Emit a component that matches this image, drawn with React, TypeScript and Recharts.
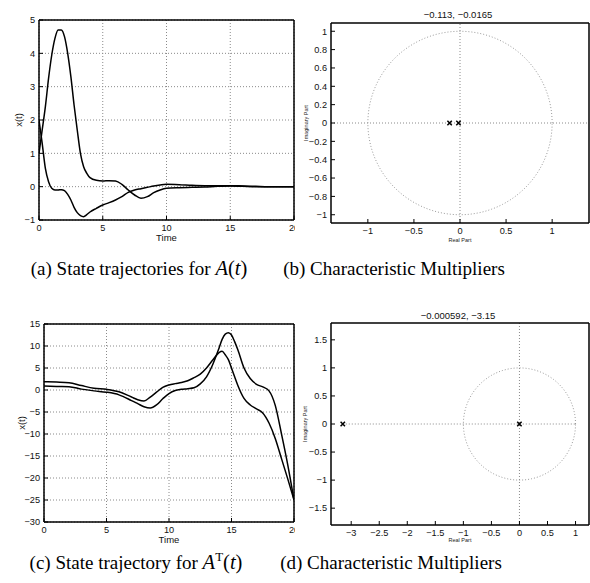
import React from "react";
import {
  LineChart,
  ComposedChart,
  Line,
  Scatter,
  XAxis,
  YAxis,
  CartesianGrid,
  ReferenceLine,
  Label,
} from "recharts";

// (a) state trajectories for A(t)
const T_A = [0, 0.25, 0.5, 0.75, 1, 1.25, 1.5, 1.75, 2, 2.25, 2.5, 2.75, 3, 3.25, 3.5, 3.75, 4, 4.5, 5, 5.5, 6, 6.5, 7, 7.5, 8, 8.5, 9, 9.5, 10, 11, 12, 13, 14, 15, 16, 17, 18, 19, 20];
const A_X1 = [1.0, 1.7, 2.4, 3.25, 3.95, 4.45, 4.7, 4.7, 4.5, 4.0, 3.3, 2.45, 1.7, 1.0, 0.6, 0.4, 0.27, 0.19, 0.17, 0.18, 0.17, 0.07, -0.1, -0.25, -0.35, -0.3, -0.18, -0.1, -0.05, -0.03, -0.02, -0.01, 0.01, 0.02, 0.01, 0, 0, 0, 0];
const A_X2 = [2.0, 1.3, 0.55, 0.15, -0.05, -0.1, -0.1, -0.09, -0.12, -0.23, -0.4, -0.62, -0.78, -0.87, -0.9, -0.84, -0.76, -0.65, -0.55, -0.48, -0.4, -0.3, -0.17, -0.1, -0.06, -0.02, 0.02, 0.05, 0.07, 0.06, 0.04, 0.03, 0.03, 0.03, 0.02, 0.01, 0, 0, 0];

// (c) state trajectory for A^T(t)
const T_C = [0, 1, 2, 3, 4, 5, 6, 7, 7.5, 8, 8.5, 9, 9.5, 10, 10.5, 11, 11.5, 12, 12.5, 13, 13.5, 14, 14.25, 14.5, 14.75, 15, 15.25, 15.5, 16, 16.5, 17, 17.5, 18, 18.5, 19, 19.5, 20];
const C_X1 = [1.9, 1.8, 1.65, 1.0, 0.4, 0.15, -0.4, -1.6, -2.2, -2.5, -1.6, -0.5, 0.6, 1.15, 1.45, 1.7, 2.1, 2.8, 3.6, 5.0, 6.8, 8.5, 8.8, 8.0, 6.9, 5.0, 3.0, 1.1, -1.9, -3.4, -4.3, -5.2, -7.5, -11, -15.6, -20.2, -25];
const C_X2 = [0.9, 0.8, 0.75, 0.2, -0.2, -0.5, -1.1, -2.4, -3.1, -3.8, -4.1, -3.4, -2.0, -0.8, -0.1, 0.15, 0.3, 0.5, 1.4, 3.0, 5.8, 9.5, 11.5, 12.7, 13.0, 12.5, 11.0, 9.2, 5.0, 2.6, 1.3, 0.7, -0.2, -3.5, -10, -17, -25];

// (b), (d) characteristic multipliers
const B_RE = [-0.113, -0.0165];
const B_IM = [0, 0];
const D_RE = [-0.000592, -3.15];
const D_IM = [0, 0];

// tick labels
const T_TICKS = [0, 5, 10, 15, 20];
const A_YTICKS = [-1, 0, 1, 2, 3, 4, 5];
const C_YTICKS = [-30, -25, -20, -15, -10, -5, 0, 5, 10, 15];
const B_XTICKS = [-1, -0.5, 0, 0.5, 1];
const B_YTICKS = [-1, -0.8, -0.6, -0.4, -0.2, 0, 0.2, 0.4, 0.6, 0.8, 1];
const D_XTICKS = [-3, -2.5, -2, -1.5, -1, -0.5, 0, 0.5, 1];
const D_YTICKS = [-1.5, -1, -0.5, 0, 0.5, 1, 1.5];

// unit circle guide (reference geometry, not data)
const UNIT_CIRCLE = Array.from({ length: 145 }, (_, i) => {
  const a = (i / 144) * 2 * Math.PI;
  return { x: Math.cos(a), y: Math.sin(a) };
});

const SANS = "'Liberation Sans', Arial, Helvetica, sans-serif";
const SERIF = "'Liberation Serif', 'Times New Roman', serif";
const TICK = { fill: "#111", fontSize: 9.2, fontFamily: SANS };
const AXIS_LINE = { stroke: "#000", strokeWidth: 1.5 };
const TICK_LINE = { stroke: "#000", strokeWidth: 1 };
const DOTTED = "#8a8a8a";

const fmt = (v: number) => String(v).replace("-", "\u2212");

const rows = (t: number[], a: number[], b: number[]) => t.map((v, i) => ({ t: v, x1: a[i], x2: b[i] }));

type Margin = { top: number; right: number; bottom: number; left: number };

function Cross(props: any) {
  const { cx, cy } = props;
  const s = 2.2;
  return (
    <path
      d={`M${cx - s},${cy - s}L${cx + s},${cy + s}M${cx - s},${cy + s}L${cx + s},${cy - s}`}
      stroke="#000"
      strokeWidth={1.5}
      fill="none"
    />
  );
}

// top + right edges of the matlab box, with inward ticks, as a second chart laid on top
function BoxTopRight(props: {
  width: number;
  height: number;
  margin: Margin;
  xDomain: [number, number];
  xTicks: number[];
  yDomain: [number, number];
  yTicks: number[];
}) {
  const { width, height, margin, xDomain, xTicks, yDomain, yTicks } = props;
  const corners = [
    { x: xDomain[0], y: yDomain[0] },
    { x: xDomain[1], y: yDomain[1] },
  ];
  return (
    <div style={{ position: "absolute", left: 0, top: 0, pointerEvents: "none" }}>
      <LineChart width={width} height={height} data={corners} margin={{ ...margin, top: margin.top - 1, right: margin.right - 1 }}>
        <XAxis
          orientation="top"
          dataKey="x"
          type="number"
          domain={xDomain}
          ticks={xTicks}
          interval={0}
          allowDataOverflow
          height={1}
          tick={false}
          tickSize={-4}
          axisLine={AXIS_LINE}
          tickLine={TICK_LINE}
        />
        <YAxis
          orientation="right"
          type="number"
          domain={yDomain}
          ticks={yTicks}
          interval={0}
          allowDataOverflow
          width={1}
          tick={false}
          tickSize={-4}
          axisLine={AXIS_LINE}
          tickLine={TICK_LINE}
        />
        <Line dataKey="y" stroke="none" dot={false} activeDot={false} isAnimationActive={false} />
      </LineChart>
    </div>
  );
}

function TrajectoryChart(props: {
  data: { t: number; x1: number; x2: number }[];
  yDomain: [number, number];
  yTicks: number[];
  height: number;
  marginTop: number;
  axisH: number;
  axisW: number;
  timeOffset: number;
  yLabelOffset: number;
}) {
  const { data, yDomain, yTicks, height, marginTop, axisH, axisW, timeOffset, yLabelOffset } = props;
  return (
    <div style={{ position: "relative", width: 300, height }}>
      <LineChart width={300} height={height} data={data} margin={{ top: marginTop, right: 6, bottom: 0, left: 0 }}>
        <CartesianGrid stroke={DOTTED} strokeDasharray="1 2" strokeWidth={1} />
        <XAxis
          dataKey="t"
          type="number"
          domain={[0, 20]}
          ticks={T_TICKS}
          interval={0}
          allowDataOverflow
          height={axisH}
          tickSize={-4}
          tickMargin={8}
          tick={TICK}
          axisLine={AXIS_LINE}
          tickLine={TICK_LINE}
          tickFormatter={fmt}
        >
          <Label value="Time" position="insideBottom" offset={timeOffset} style={{ fontSize: 9.5, fontFamily: SANS, fill: "#111" }} />
        </XAxis>
        <YAxis
          type="number"
          domain={yDomain}
          ticks={yTicks}
          interval={0}
          allowDataOverflow
          width={axisW}
          tickSize={-4}
          tickMargin={8}
          tick={TICK}
          axisLine={AXIS_LINE}
          tickLine={TICK_LINE}
          tickFormatter={fmt}
        >
          <Label
            value="x(t)"
            angle={-90}
            position="insideLeft"
            offset={yLabelOffset}
            style={{ fontSize: 9.5, fontFamily: SANS, fill: "#111", textAnchor: "middle" }}
          />
        </YAxis>
        <Line dataKey="x1" type="monotone" stroke="#000" strokeWidth={1.5} dot={false} isAnimationActive={false} />
        <Line dataKey="x2" type="monotone" stroke="#000" strokeWidth={1.5} dot={false} isAnimationActive={false} />
      </LineChart>
      <BoxTopRight
        width={300}
        height={height}
        margin={{ top: marginTop, right: 6, bottom: axisH, left: axisW }}
        xDomain={[0, 20]}
        xTicks={T_TICKS}
        yDomain={yDomain}
        yTicks={yTicks}
      />
    </div>
  );
}

function MultiplierChart(props: {
  re: number[];
  im: number[];
  xDomain: [number, number];
  xTicks: number[];
  yDomain: [number, number];
  yTicks: number[];
  height: number;
  marginTop: number;
  axisH: number;
  imOffset: number;
  reOffset: number;
  partialAxis?: boolean;
}) {
  const { re, im, xDomain, xTicks, yDomain, yTicks, height, marginTop, axisH, imOffset, reOffset, partialAxis } = props;
  const points = re.map((x, i) => ({ x, y: im[i] }));
  const smallLabel = { fontSize: 5.5, fontFamily: SANS, fill: "#222" };
  return (
    <div style={{ position: "relative", width: 295, height }}>
      <ComposedChart width={295} height={height} margin={{ top: marginTop, right: 1, bottom: 0, left: 0 }}>
        <XAxis
          dataKey="x"
          type="number"
          domain={xDomain}
          ticks={xTicks}
          interval={0}
          allowDataOverflow
          height={axisH}
          tickSize={-4}
          tickMargin={8}
          tick={TICK}
          axisLine={AXIS_LINE}
          tickLine={TICK_LINE}
          tickFormatter={fmt}
        >
          <Label value="Real Part" position="insideBottom" offset={reOffset} style={smallLabel} />
        </XAxis>
        <YAxis
          dataKey="y"
          type="number"
          domain={yDomain}
          ticks={yTicks}
          interval={0}
          allowDataOverflow
          width={36}
          tickSize={-4}
          tickMargin={8}
          tick={TICK}
          axisLine={AXIS_LINE}
          tickLine={TICK_LINE}
          tickFormatter={fmt}
        >
          <Label
            value="Imaginary Part"
            angle={-90}
            position="insideLeft"
            offset={imOffset}
            style={{ ...smallLabel, textAnchor: "middle" }}
          />
        </YAxis>
        {partialAxis ? (
          <ReferenceLine
            segment={[
              { x: Math.min(...re), y: 0 },
              { x: 1, y: 0 },
            ]}
            stroke={DOTTED}
            strokeDasharray="1 2"
          />
        ) : (
          <ReferenceLine y={0} stroke={DOTTED} strokeDasharray="1 2" />
        )}
        <ReferenceLine x={0} stroke={DOTTED} strokeDasharray="1 2" />
        <Line
          data={UNIT_CIRCLE}
          dataKey="y"
          type="linear"
          stroke="#9a9a9a"
          strokeWidth={1}
          strokeDasharray="1 2"
          dot={false}
          isAnimationActive={false}
        />
        <Scatter data={points} shape={Cross} isAnimationActive={false} />
      </ComposedChart>
      <BoxTopRight
        width={295}
        height={height}
        margin={{ top: marginTop, right: 1, bottom: axisH, left: 36 }}
        xDomain={xDomain}
        xTicks={xTicks}
        yDomain={yDomain}
        yTicks={yTicks}
      />
    </div>
  );
}

const caption: React.CSSProperties = {
  position: "absolute",
  width: 300,
  textAlign: "center",
  whiteSpace: "nowrap",
  fontFamily: SERIF,
  fontSize: 19,
  lineHeight: "19px",
  color: "#000",
};

const math: React.CSSProperties = { fontSize: 20.5 };

const title: React.CSSProperties = {
  position: "absolute",
  left: 329,
  width: 258,
  textAlign: "center",
  fontFamily: SANS,
  fontSize: 9.5,
  lineHeight: "9.5px",
  color: "#111",
};

export default function App() {
  return (
    <div style={{ position: "absolute", left: 0, top: 0, width: 590, height: 583, background: "#fff", overflow: "hidden" }}>
      <div style={{ position: "absolute", left: 0, top: 0, width: 295, height: 250, overflow: "hidden" }}>
        <TrajectoryChart
          data={rows(T_A, A_X1, A_X2)}
          yDomain={[-1, 5]}
          yTicks={A_YTICKS}
          height={250}
          marginTop={20}
          axisH={30}
          axisW={39}
          timeOffset={9}
          yLabelOffset={19}
        />
      </div>
      <div style={{ position: "absolute", left: 0, top: 290, width: 295, height: 260, overflow: "hidden" }}>
        <TrajectoryChart
          data={rows(T_C, C_X1, C_X2)}
          yDomain={[-30, 15]}
          yTicks={C_YTICKS}
          height={260}
          marginTop={34}
          axisH={28}
          axisW={44}
          timeOffset={7}
          yLabelOffset={22}
        />
      </div>
      <div style={{ position: "absolute", left: 295, top: 0, width: 295, height: 250, overflow: "hidden" }}>
        <MultiplierChart
          re={B_RE}
          im={B_IM}
          xDomain={[-1.4, 1.4]}
          xTicks={B_XTICKS}
          yDomain={[-1.09, 1.09]}
          yTicks={B_YTICKS}
          height={250}
          marginTop={23}
          axisH={27}
          imOffset={11}
          reOffset={8}
        />
      </div>
      <div style={{ position: "absolute", left: 295, top: 290, width: 295, height: 260, overflow: "hidden" }}>
        <MultiplierChart
          re={D_RE}
          im={D_IM}
          xDomain={[-3.36, 1.24]}
          xTicks={D_XTICKS}
          yDomain={[-1.8, 1.8]}
          yTicks={D_YTICKS}
          height={260}
          marginTop={33}
          axisH={25}
          imOffset={10}
          reOffset={8}
          partialAxis
        />
      </div>
      <div style={{ ...title, top: 9.5 }}>{B_RE.map(fmt).join(", ")}</div>
      <div style={{ ...title, top: 310.5 }}>{D_RE.map(fmt).join(", ")}</div>
      <div style={{ ...caption, left: -11, top: 259 }}>
        (a) State trajectories for <span style={math}><i>A</i>(<i>t</i>)</span>
      </div>
      <div style={{ ...caption, left: 244, top: 259 }}>(b) Characteristic Multipliers</div>
      <div style={{ ...caption, left: -14, top: 553 }}>
        (c) State trajectory for <span style={math}><i>A</i>
        <span style={{ fontSize: 13, position: "relative", top: -8 }}>T</span>(<i>t</i>)</span>
      </div>
      <div style={{ ...caption, left: 241, top: 553 }}>(d) Characteristic Multipliers</div>
    </div>
  );
}
